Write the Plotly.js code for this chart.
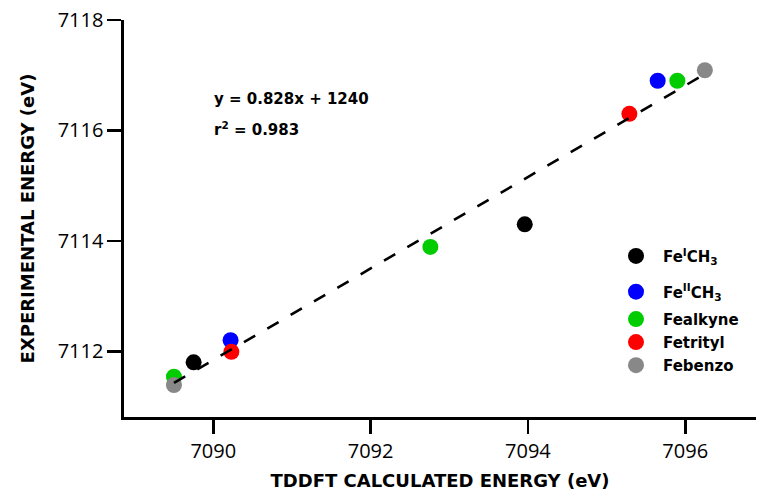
<!DOCTYPE html>
<html>
<head>
<meta charset="utf-8">
<script src="https://cdn.plot.ly/plotly-3.0.1.min.js"></script>
<style>
html,body{margin:0;padding:0;background:#fff;}
#chart{width:758px;height:496px;}
</style>
</head>
<body>
<div id="chart"></div>
<script>
// Series names (legend labels)
const seriesNames = ["Fe<sup>I</sup>CH<sub>3</sub>", "Fe<sup>II</sup>CH<sub>3</sub>", "Fealkyne", "Fetrityl", "Febenzo"];
const seriesColors = ["#000000", "#0000ff", "#00cc00", "#ff0000", "#888888"];

// TDDFT calculated energies (eV)
const xFeICH3 = [7089.75, 7093.96];
const xFeIICH3 = [7090.22, 7095.65];
const xFealkyne = [7089.50, 7092.76, 7095.90];
const xFetrityl = [7090.23, 7095.29];
const xFebenzo = [7089.50, 7096.25];

// Experimental energies (eV)
const yFeICH3 = [7111.80, 7114.30];
const yFeIICH3 = [7112.20, 7116.90];
const yFealkyne = [7111.54, 7113.89, 7116.90];
const yFetrityl = [7111.99, 7116.30];
const yFebenzo = [7111.39, 7117.09];

const fitText = ["y = 0.828x + 1240", "r<sup>2</sup> = 0.983"];
const xTicks = [7090, 7092, 7094, 7096];
const yTicks = [7112, 7114, 7116, 7118];

const xs = [xFeICH3, xFeIICH3, xFealkyne, xFetrityl, xFebenzo];
const ys = [yFeICH3, yFeIICH3, yFealkyne, yFetrityl, yFebenzo];
const legendIds = ["legend", "legend2", "legend3", "legend4", "legend5"];
const legendY = [0.405, 0.315, 0.246, 0.188, 0.130];

const traces = xs.map((xv, i) => ({
  type: "scatter", mode: "markers", x: xv, y: ys[i], name: seriesNames[i],
  legend: legendIds[i],
  marker: {color: seriesColors[i], size: 16, line: {width: 0}}
}));

// least-squares fit from all points
const allX = [].concat(...xs), allY = [].concat(...ys);
const n = allX.length;
const mx = allX.reduce((a,b)=>a+b,0)/n, my = allY.reduce((a,b)=>a+b,0)/n;
let sxy = 0, sxx = 0;
for (let i = 0; i < n; i++) { sxy += (allX[i]-mx)*(allY[i]-my); sxx += (allX[i]-mx)**2; }
const slope = sxy/sxx, icpt = my - slope*mx;
const xmin = Math.min(...allX), xmax = Math.max(...allX);
traces.push({
  type: "scatter", mode: "lines", x: [xmin, xmax], y: [slope*xmin+icpt, slope*xmax+icpt],
  line: {color: "#000", width: 2.6, dash: "13px,14px"}, showlegend: false, hoverinfo: "skip"
});

const boldFam = "DejaVu Sans, sans-serif";
const tickFont = {family: "Open Sans, sans-serif", size: 20, color: "#000"};
const titleFont = {family: boldFam, size: 18, color: "#000", weight: "bold"};

const layout = {
  width: 758, height: 496,
  margin: {l: 124, r: 2, t: 20, b: 78.5},
  paper_bgcolor: "#fff", plot_bgcolor: "#fff",
  showlegend: true,
  xaxis: {
    range: [7088.865, 7096.9], tickvals: xTicks, ticktext: xTicks.map(String),
    showgrid: false, zeroline: false, showline: true, linecolor: "#000", linewidth: 2.6,
    ticks: "outside", ticklen: 14, tickwidth: 2.6, tickcolor: "#000",
    tickfont: tickFont,
    title: {text: "TDDFT CALCULATED ENERGY (eV)", font: titleFont, standoff: 12}
  },
  yaxis: {
    range: [7110.81, 7118], tickvals: yTicks, ticktext: yTicks.map(String),
    showgrid: false, zeroline: false, showline: true, linecolor: "#000", linewidth: 2.6,
    ticks: "outside", ticklen: 14, tickwidth: 2.6, tickcolor: "#000",
    tickfont: tickFont,
    title: {text: "EXPERIMENTAL ENERGY (eV)", font: titleFont, standoff: 19}
  },
  annotations: [
    {xref: "x", yref: "y", x: 7089.99, y: 7116.57, xanchor: "left", yanchor: "middle", showarrow: false,
     text: "<b>" + fitText[0] + "</b>", font: {family: boldFam, size: 15, color: "#000"}},
    {xref: "x", yref: "y", x: 7089.99, y: 7116.03, xanchor: "left", yanchor: "middle", showarrow: false,
     text: "<b>" + fitText[1] + "</b>", font: {family: boldFam, size: 15, color: "#000"}}
  ]
};
legendIds.forEach((id, i) => {
  layout[id] = {x: 0.7674, y: legendY[i], xanchor: "left", yanchor: "middle", bgcolor: "rgba(0,0,0,0)",
    itemwidth: 44, font: {family: boldFam, size: 15, color: "#000", weight: "bold"}};
});

Plotly.newPlot("chart", traces, layout, {displayModeBar: false, staticPlot: true});
</script>
</body>
</html>
